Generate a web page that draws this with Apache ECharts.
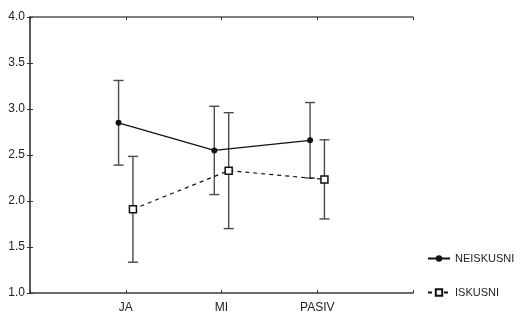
<!DOCTYPE html>
<html>
<head>
<meta charset="utf-8">
<script src="https://cdn.jsdelivr.net/npm/echarts@6/dist/echarts.min.js"></script>
<style>
  html, body { margin: 0; padding: 0; background: #fff; }
  #chart { width: 521px; height: 315px; }
</style>
</head>
<body>
<div id="chart"></div>
<script>
/* categories and group means with half-width of the error bars */
const categories = ['JA', 'MI', 'PASIV'];
const neiskusniMean = [2.85, 2.55, 2.66];
const neiskusniErr  = [0.46, 0.48, 0.41];
const iskusniMean   = [1.91, 2.33, 2.235];
const iskusniErr    = [0.575, 0.63, 0.43];
const yTicks = { min: 1.0, max: 4.0, step: 0.5 };

// small horizontal shift so the two groups don't overlap
const SHIFT = 0.075;

function points(means, dx) {
  return means.map((m, i) => [i + 1 + dx, m]);
}
function bars(means, errs, dx) {
  return means.map((m, i) => [i + 1 + dx, m - errs[i], m + errs[i]]);
}

function errorBar(params, api) {
  const x = api.value(0);
  const lo = api.coord([x, api.value(1)]);
  const hi = api.coord([x, api.value(2)]);
  const cap = 5;
  const style = { stroke: '#4a4a4a', lineWidth: 1.4 };
  return {
    type: 'group',
    children: [
      { type: 'line', shape: { x1: lo[0], y1: lo[1], x2: hi[0], y2: hi[1] }, style },
      { type: 'line', shape: { x1: lo[0] - cap, y1: lo[1], x2: lo[0] + cap, y2: lo[1] }, style },
      { type: 'line', shape: { x1: hi[0] - cap, y1: hi[1], x2: hi[0] + cap, y2: hi[1] }, style }
    ]
  };
}

const axisLine = { lineStyle: { color: '#3a3a3a', width: 1.5 } };
const boxLine = { show: true, lineStyle: { color: '#555', width: 1.5 } };
const tickIn = { show: true, inside: true, length: 3, lineStyle: { color: '#333' } };
const font = 'Liberation Sans, Arial, sans-serif';

const chart = echarts.init(document.getElementById('chart'), null, { renderer: 'canvas' });
chart.setOption({
  animation: false,
  grid: { left: 30, right: 108, top: 17, bottom: 22 },
  legend: {
    orient: 'vertical',
    left: 422,
    top: 248,
    itemGap: 23,
    itemWidth: 22,
    itemHeight: 8,
    textStyle: { fontFamily: font, fontSize: 11, color: '#222' },
    data: ['NEISKUSNI', 'ISKUSNI']
  },
  xAxis: [{
    type: 'value', min: 0, max: 4, interval: 1,
    axisLine, axisTick: tickIn, splitLine: { show: false },
    axisLabel: {
      margin: 9, fontFamily: font, fontSize: 12, color: '#222',
      formatter: v => categories[v - 1] || ''
    }
  }, {
    type: 'value', position: 'top', min: 0, max: 4, interval: 1,
    axisLine: boxLine, axisTick: tickIn, axisLabel: { show: false }, splitLine: { show: false }
  }],
  yAxis: [{
    type: 'value', min: yTicks.min, max: yTicks.max, interval: yTicks.step,
    axisLine: Object.assign({ show: true }, axisLine), axisTick: tickIn, splitLine: { show: false },
    axisLabel: { margin: 5, fontFamily: font, fontSize: 12, color: '#222', formatter: v => v.toFixed(1) }
  }, {
    type: 'value', position: 'right', min: yTicks.min, max: yTicks.max, interval: yTicks.step,
    axisLine: boxLine, axisTick: tickIn,
    axisLabel: { show: false }, splitLine: { show: false }
  }],
  series: [
    {
      type: 'custom', renderItem: errorBar, silent: true, z: 1,
      data: bars(neiskusniMean, neiskusniErr, -SHIFT)
    },
    {
      type: 'custom', renderItem: errorBar, silent: true, z: 1,
      data: bars(iskusniMean, iskusniErr, SHIFT)
    },
    {
      name: 'NEISKUSNI', type: 'line', z: 3,
      symbol: 'circle', symbolSize: 6,
      lineStyle: { color: '#111', width: 1.2 },
      itemStyle: { color: '#111' },
      data: points(neiskusniMean, -SHIFT)
    },
    {
      name: 'ISKUSNI', type: 'line', z: 3,
      symbol: 'rect', symbolSize: 7,
      lineStyle: { color: '#111', width: 1.2, type: [4, 4] },
      itemStyle: { color: '#fff', borderColor: '#111', borderWidth: 1.5 },
      data: points(iskusniMean, SHIFT)
    }
  ]
});
</script>
</body>
</html>
